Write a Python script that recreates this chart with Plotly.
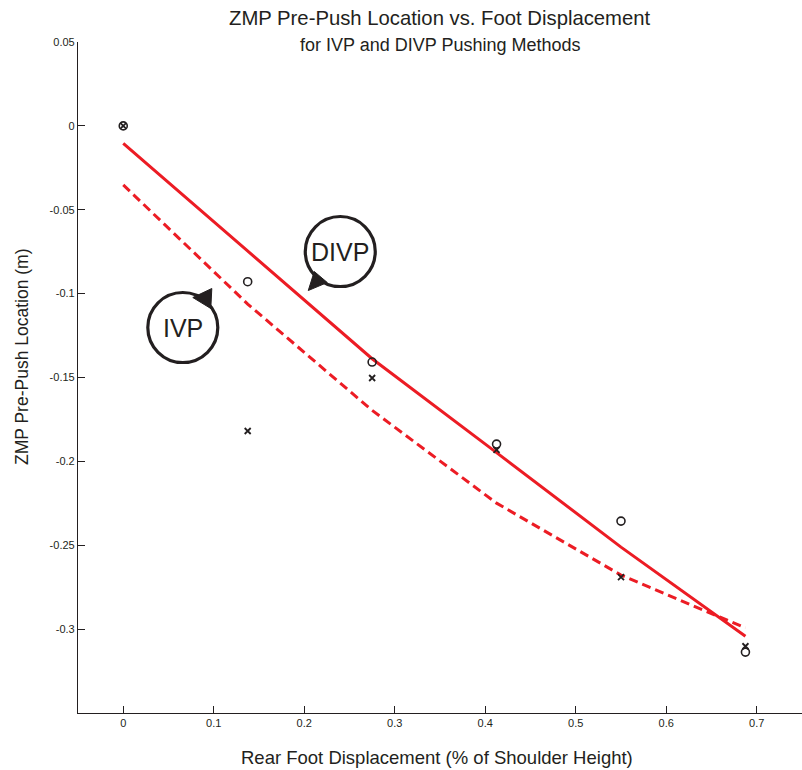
import plotly.graph_objects as go

# ---- data ----
displacement = [0.0, 0.1375, 0.275, 0.4125, 0.55, 0.6875]
divp_zmp = [0.0, -0.0929, -0.1408, -0.1897, -0.2356, -0.3137]
ivp_zmp = [0.0, -0.1819, -0.1503, -0.1932, -0.2690, -0.3102]
divp_fit = [-0.0104, -0.0746, -0.1388, -0.1948, -0.2511, -0.3042]
ivp_fit = [-0.0352, -0.1062, -0.1696, -0.2249, -0.2678, -0.2993]

x_ticks = [0, 0.1, 0.2, 0.3, 0.4, 0.5, 0.6, 0.7]
x_ticktext = ["0", "0.1", "0.2", "0.3", "0.4", "0.5", "0.6", "0.7"]
y_ticks = [0.05, 0, -0.05, -0.1, -0.15, -0.2, -0.25, -0.3]
y_ticktext = ["0.05", "0", "-0.05", "-0.1", "-0.15", "-0.2", "-0.25", "-0.3"]

# callout bubbles (label, anchor x, anchor y)
callouts = [("DIVP", 0.2398, -0.0749), ("IVP", 0.0658, -0.1202)]

RED = "#ec1c24"
INK = "#231f20"
FONT = "Liberation Sans, Arial, Helvetica, sans-serif"

fig = go.Figure()
fig.add_trace(go.Scatter(x=displacement, y=divp_fit, mode="lines",
                         line=dict(color=RED, width=3), name="DIVP fit"))
fig.add_trace(go.Scatter(x=displacement, y=ivp_fit, mode="lines",
                         line=dict(color=RED, width=3, dash="9px,5px"), name="IVP fit"))
fig.add_trace(go.Scatter(x=displacement, y=divp_zmp, mode="markers",
                         marker=dict(symbol="circle-open", size=8, color=INK,
                                     line=dict(width=1.6, color=INK)), name="DIVP"))
fig.add_trace(go.Scatter(x=displacement, y=ivp_zmp, mode="markers",
                         marker=dict(symbol="x-thin", size=6, color=INK,
                                     line=dict(width=1.8, color=INK)), name="IVP"))

shapes = []
annotations = []
tails = {
    "DIVP": "M -26,-20 L -32,-39 L -13,-31 Z",
    "IVP": "M 10,30 L 29,39 L 28,19 Z",
}
for label, cx, cy in callouts:
    shapes.append(dict(type="circle", xref="x", yref="y", xsizemode="pixel", ysizemode="pixel",
                       xanchor=cx, yanchor=cy, x0=-35, x1=35, y0=-35, y1=35,
                       line=dict(color=INK, width=3.2), fillcolor="rgba(0,0,0,0)"))
    shapes.append(dict(type="path", xref="x", yref="y", xsizemode="pixel", ysizemode="pixel",
                       xanchor=cx, yanchor=cy, path=tails[label],
                       line=dict(color=INK, width=1), fillcolor=INK))
    annotations.append(dict(x=cx, y=cy, xref="x", yref="y", text=label, showarrow=False,
                            font=dict(family=FONT, size=25, color=INK),
                            xanchor="center", yanchor="middle"))

# titles
annotations.append(dict(x=0.5, y=1, xref="paper", yref="paper", yanchor="middle", yshift=24,
                        text="ZMP Pre-Push Location vs. Foot Displacement", showarrow=False,
                        font=dict(family=FONT, size=20.3, color=INK)))
annotations.append(dict(x=0.5, y=1, xref="paper", yref="paper", yanchor="middle", yshift=-3,
                        text="for IVP and DIVP Pushing Methods", showarrow=False,
                        font=dict(family=FONT, size=18, color=INK)))
annotations.append(dict(x=0.5, y=0, xref="paper", yref="paper", yanchor="middle", yshift=-44,
                        xshift=-3,
                        text="Rear Foot Displacement (% of Shoulder Height)", showarrow=False,
                        font=dict(family=FONT, size=18.5, color=INK)))
annotations.append(dict(x=0, y=0.5305, xref="paper", yref="paper", xanchor="center",
                        yanchor="middle", xshift=-56, textangle=-90,
                        text="ZMP Pre-Push Location (m)", showarrow=False,
                        font=dict(family=FONT, size=17.5, color=INK)))

fig.update_layout(
    width=802, height=770,
    margin=dict(l=78, r=0, t=42, b=57),
    paper_bgcolor="white", plot_bgcolor="white",
    showlegend=False,
    shapes=shapes, annotations=annotations,
    font=dict(family=FONT, color=INK),
    xaxis=dict(range=[-0.05, 0.75], tickvals=x_ticks, ticktext=x_ticktext,
               showline=True, linecolor=INK, linewidth=1.2, ticks="inside", ticklen=7,
               tickcolor=INK, tickwidth=1, showgrid=False, zeroline=False,
               tickfont=dict(size=11, color=INK)),
    yaxis=dict(range=[-0.35, 0.05], tickvals=y_ticks, ticktext=y_ticktext,
               showline=True, linecolor=INK, linewidth=1.2, ticks="inside", ticklen=7,
               tickcolor=INK, tickwidth=1, showgrid=False, zeroline=False,
               tickfont=dict(size=11, color=INK)),
)

fig.write_html("out.html")
